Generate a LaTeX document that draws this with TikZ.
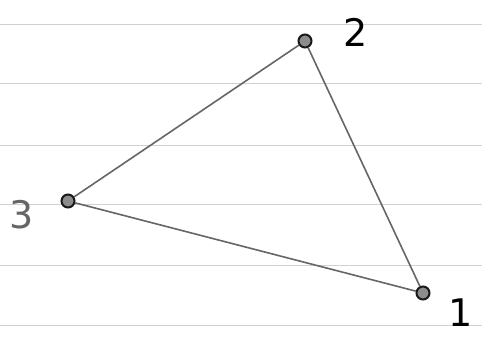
\documentclass[tikz,border=0pt]{standalone}
\usepackage{fontspec}
\setmainfont{DejaVu Sans}
\begin{document}
\begin{tikzpicture}[
  x=1pt, y=-1pt,
  vertex/.style={circle, draw=black!90, fill=black!45, line width=2pt, minimum size=13pt, inner sep=0pt},
  edge/.style={draw=black!60, line width=1.6pt},
  label/.style={font=\fontsize{38}{38}\selectfont, inner sep=0pt},
  rule/.style={draw=black!18, line width=1pt}
]
\useasboundingbox (0,0) rectangle (482,341);
\fill[white] (0,0) rectangle (482,341);
% ruled paper
\foreach \y in {24,83,145,204,265,325}
  \draw[rule] (0,\y) -- (482,\y);

\node[vertex] at (423,293) (one) {};
\node[vertex] at (305,41) (two) {};
\node[vertex] at (68,201) (three) {};

\node[label] at (461,313) (lone) {1};
\node[label] at (356,32) (ltwo) {2};
\node[label, text=black!60] at (22,215) (lthree) {3};

\draw[edge] (one) -- (two);
\draw[edge] (two) -- (three);
\draw[edge] (three) -- (one);
\end{tikzpicture}
\end{document}
